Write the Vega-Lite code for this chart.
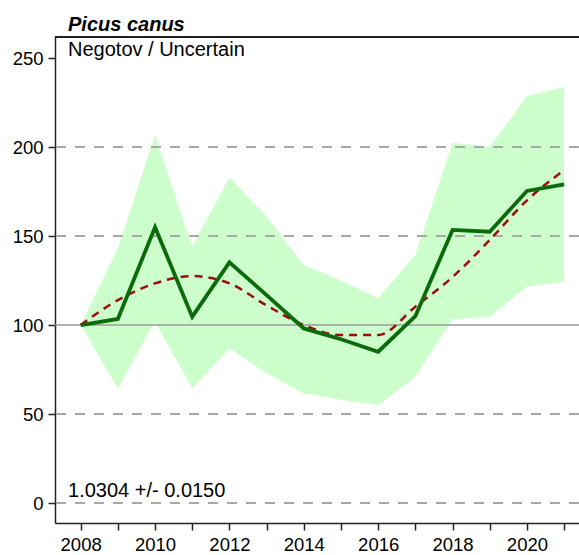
{
  "$schema": "https://vega.github.io/schema/vega-lite/v6.json",
  "width": 524,
  "height": 486,
  "autosize": {"type": "none"},
  "padding": {"left": 55, "top": 37, "right": 0, "bottom": 32},
  "background": "white",
  "config": {
    "view": {"stroke": null},
    "font": "Liberation Sans",
    "axis": {"labelFont": "Liberation Sans", "labelColor": "#000", "labelFontSize": 18.5, "tickColor": "#222", "domainColor": "#222", "domainWidth": 1.5, "tickWidth": 1.5, "grid": false, "title": null}
  },
  "title": {
    "text": "Picus canus",
    "anchor": "start",
    "frame": "group",
    "dx": 13,
    "offset": 1,
    "fontSize": 20,
    "fontStyle": "italic",
    "fontWeight": "bold",
    "font": "Liberation Sans",
    "color": "#000"
  },
  "datasets": {
    "series": [
      {"year": 2008, "index": 100, "trend": 100, "lower": 100, "upper": 100},
      {"year": 2009, "index": 103.4, "trend": 114, "lower": 64.4, "upper": 143},
      {"year": 2010, "index": 154.9, "trend": 123.4, "lower": 101.9, "upper": 206.7},
      {"year": 2011, "index": 104.7, "trend": 127.5, "lower": 64.4, "upper": 144},
      {"year": 2012, "index": 135.2, "trend": 123.4, "lower": 86.9, "upper": 183},
      {"year": 2013, "index": 116.8, "trend": 111, "lower": 72.9, "upper": 160.9},
      {"year": 2014, "index": 98.1, "trend": 100, "lower": 61.6, "upper": 133.7},
      {"year": 2015, "index": 92, "trend": 94.4, "lower": 58, "upper": 125},
      {"year": 2016, "index": 85, "trend": 94.4, "lower": 55, "upper": 115},
      {"year": 2017, "index": 105, "trend": 110.3, "lower": 71, "upper": 139.3},
      {"year": 2018, "index": 153.4, "trend": 127, "lower": 103.2, "upper": 202.4},
      {"year": 2019, "index": 152.4, "trend": 147.8, "lower": 104.7, "upper": 200.2},
      {"year": 2020, "index": 175.3, "trend": 170, "lower": 121.5, "upper": 228.5},
      {"year": 2021, "index": 179, "trend": 187, "lower": 124.3, "upper": 233.9}
    ],
    "grid": [{"v": 0}, {"v": 50}, {"v": 150}, {"v": 200}],
    "one": [{"k": 1}]
  },
  "data": {"name": "series"},
  "layer": [
    {
      "mark": {"type": "area", "color": "#ccffcc", "opacity": 1},
      "encoding": {
        "x": {"field": "year", "type": "quantitative", "scale": {"domain": [2007.31, 2021.4], "nice": false, "zero": false},
          "axis": {"orient": "bottom", "values": [2008,2009,2010,2011,2012,2013,2014,2015,2016,2017,2018,2019,2020,2021], "format": "d", "labelExpr": "datum.value % 2 === 0 ? datum.label : ''", "tickSize": 7, "labelPadding": 5, "labelFlush": false, "labelOverlap": false}},
        "y": {"field": "lower", "type": "quantitative", "scale": {"domain": [-11.2, 261.8], "nice": false, "zero": false},
          "axis": {"values": [0, 50, 100, 150, 200, 250], "tickSize": 7, "labelPadding": 5}},
        "y2": {"field": "upper"}
      }
    },
    {
      "data": {"name": "grid"},
      "mark": {"type": "rule", "color": "#a8a8a8", "strokeWidth": 2, "strokeDash": [10, 9]},
      "encoding": {"y": {"field": "v", "type": "quantitative"}}
    },
    {
      "data": {"name": "one"},
      "mark": {"type": "rule", "color": "#9a9a9a", "strokeWidth": 1.5},
      "encoding": {"y": {"datum": 100, "type": "quantitative"}}
    },
    {
      "data": {"name": "one"},
      "mark": {"type": "rule", "color": "#222", "strokeWidth": 2},
      "encoding": {"y": {"datum": 261.8, "type": "quantitative"}}
    },
    {
      "mark": {"type": "line", "color": "#a00c0c", "strokeWidth": 2.5, "strokeDash": [8, 6], "interpolate": "monotone"},
      "encoding": {
        "x": {"field": "year", "type": "quantitative"},
        "y": {"field": "trend", "type": "quantitative"}
      }
    },
    {
      "mark": {"type": "line", "color": "#0b6b0b", "strokeWidth": 3.8},
      "encoding": {
        "x": {"field": "year", "type": "quantitative"},
        "y": {"field": "index", "type": "quantitative"}
      }
    },
    {
      "data": {"name": "one"},
      "mark": {"type": "text", "align": "left", "baseline": "alphabetic", "fontSize": 20, "fontWeight": "normal", "font": "Liberation Sans", "color": "#000"},
      "encoding": {
        "x": {"datum": 2007.66, "type": "quantitative"},
        "y": {"datum": 251.1, "type": "quantitative"},
        "text": {"value": "Negotov / Uncertain"}
      }
    },
    {
      "data": {"name": "one"},
      "mark": {"type": "text", "align": "left", "baseline": "alphabetic", "fontSize": 20, "fontWeight": "normal", "font": "Liberation Sans", "color": "#000"},
      "encoding": {
        "x": {"datum": 2007.66, "type": "quantitative"},
        "y": {"datum": 3.2, "type": "quantitative"},
        "text": {"value": "1.0304 +/- 0.0150"}
      }
    }
  ]
}
